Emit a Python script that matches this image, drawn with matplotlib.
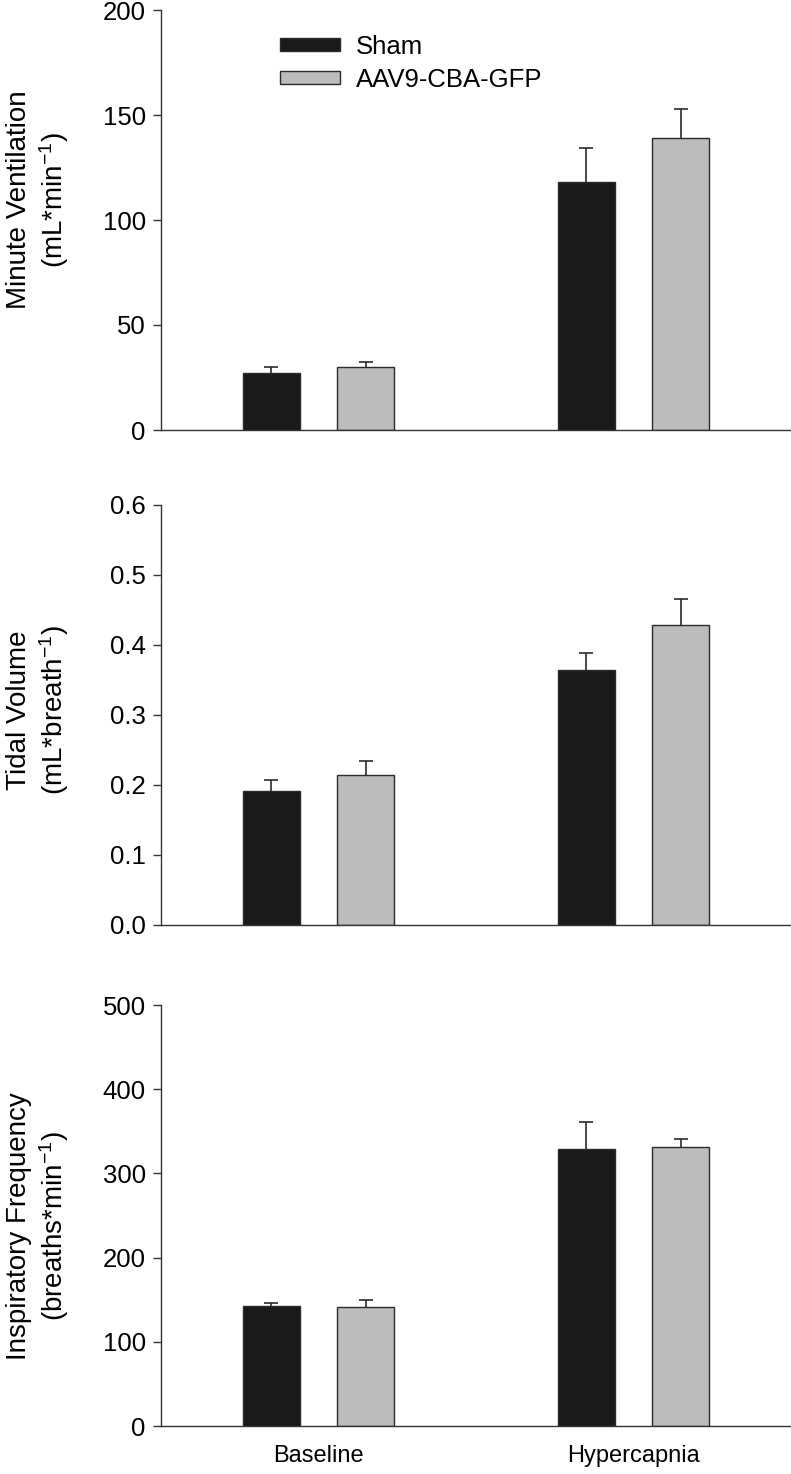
import numpy as np
import matplotlib
matplotlib.use('Agg')
import matplotlib.pyplot as plt
from matplotlib.patches import Patch

plt.rcParams['font.family'] = ['Liberation Sans', 'DejaVu Sans']
plt.rcParams['mathtext.fontset'] = 'custom'
plt.rcParams['mathtext.rm'] = 'Liberation Sans'
plt.rcParams['mathtext.it'] = 'Liberation Sans'
plt.rcParams['mathtext.default'] = 'regular'

# Données
conditions = ['Baseline', 'Hypercapnia']
groups = ['Sham', 'AAV9-CBA-GFP']

ve_sham = [27.3, 118.2]
ve_sham_sem = [2.6, 16.2]
ve_gfp = [29.9, 139.0]
ve_gfp_sem = [2.6, 14.0]

vt_sham = [0.192, 0.365]
vt_sham_sem = [0.015, 0.024]
vt_gfp = [0.215, 0.429]
vt_gfp_sem = [0.019, 0.037]

f_sham = [142.9, 329.3]
f_sham_sem = [2.8, 32.1]
f_gfp = [141.7, 331.4]
f_gfp_sem = [8.3, 9.5]

ylabels = ['Minute Ventilation\n(mL*min$^{-1}$)',
           'Tidal Volume\n(mL*breath$^{-1}$)',
           'Inspiratory Frequency\n(breaths*min$^{-1}$)']
yticks_list = [[0, 50, 100, 150, 200],
               [0.0, 0.1, 0.2, 0.3, 0.4, 0.5, 0.6],
               [0, 100, 200, 300, 400, 500]]
ytick_fmt = ['{:.0f}', '{:.1f}', '{:.0f}']
label_y = [0.548, 0.512, 0.474]

panels = [(ve_sham, ve_sham_sem, ve_gfp, ve_gfp_sem),
          (vt_sham, vt_sham_sem, vt_gfp, vt_gfp_sem),
          (f_sham, f_sham_sem, f_gfp, f_gfp_sem)]

col_sham = '#1a1a1a'
col_gfp = '#bcbcbc'
edge = '#2a2a2a'

fig = plt.figure(figsize=(7.91, 14.74), dpi=100)
W, H = 791, 1474
# (haut, bas) en pixels
boxes = [(10, 430), (505, 925), (1005, 1426)]
x0, x1 = 161, 791

x = np.arange(len(conditions))
w = 0.18
off = 0.15


def barres_erreur(ax, xpos, vals, sems):
    # erreur vers le haut seulement, sans le trait du bas
    _, caps, _ = ax.errorbar(xpos, vals, yerr=[np.zeros(len(vals)), sems], fmt='none',
                             ecolor=edge, elinewidth=1.2, capsize=4.8, capthick=1.2, zorder=1)
    for c in caps:
        if np.allclose(c.get_ydata(), vals):
            c.set_visible(False)


for i, (sham, sham_sem, gfp, gfp_sem) in enumerate(panels):
    top, bot = boxes[i]
    ax = fig.add_axes([x0 / W, 1 - bot / H, (x1 - x0) / W, (bot - top) / H])
    ax.bar(x - off, sham, w, color=col_sham, edgecolor=edge, linewidth=1.0, zorder=2)
    ax.bar(x + off, gfp, w, color=col_gfp, edgecolor=edge, linewidth=1.0, zorder=2)
    barres_erreur(ax, x - off, sham, sham_sem)
    barres_erreur(ax, x + off, gfp, gfp_sem)

    yt = yticks_list[i]
    ax.set_ylim(yt[0], yt[-1])
    ax.set_yticks(yt)
    ax.set_yticklabels([ytick_fmt[i].format(v) for v in yt], fontsize=18.5)
    ax.set_xlim(-0.5, 1.5)
    ax.spines['top'].set_visible(False)
    ax.spines['right'].set_visible(False)
    for s in ['left', 'bottom']:
        ax.spines[s].set_color('#333333')
        ax.spines[s].set_linewidth(1.0)
    ax.tick_params(axis='y', direction='out', length=6, width=1.0, color='#333333', pad=5)
    ax.set_ylabel(ylabels[i], fontsize=20, linespacing=1.2)
    ax.yaxis.set_label_coords(-0.143, label_y[i])

    if i < 2:
        ax.set_xticks([])
    else:
        ax.set_xticks(x)
        ax.set_xticklabels(conditions, fontsize=17)
        ax.tick_params(axis='x', length=0, pad=14)

    if i == 0:
        handles = [Patch(facecolor=col_sham, edgecolor=edge, linewidth=1.0),
                   Patch(facecolor=col_gfp, edgecolor=edge, linewidth=1.0)]
        ax.legend(handles, groups, loc='upper left', bbox_to_anchor=(280 / W, 1 - 35 / H),
                  bbox_transform=fig.transFigure, frameon=False, fontsize=18.5,
                  handlelength=2.32, handleheight=0.4, handletextpad=0.62,
                  labelspacing=0.35, borderpad=0, borderaxespad=0)

plt.savefig('out.png', dpi=100)
